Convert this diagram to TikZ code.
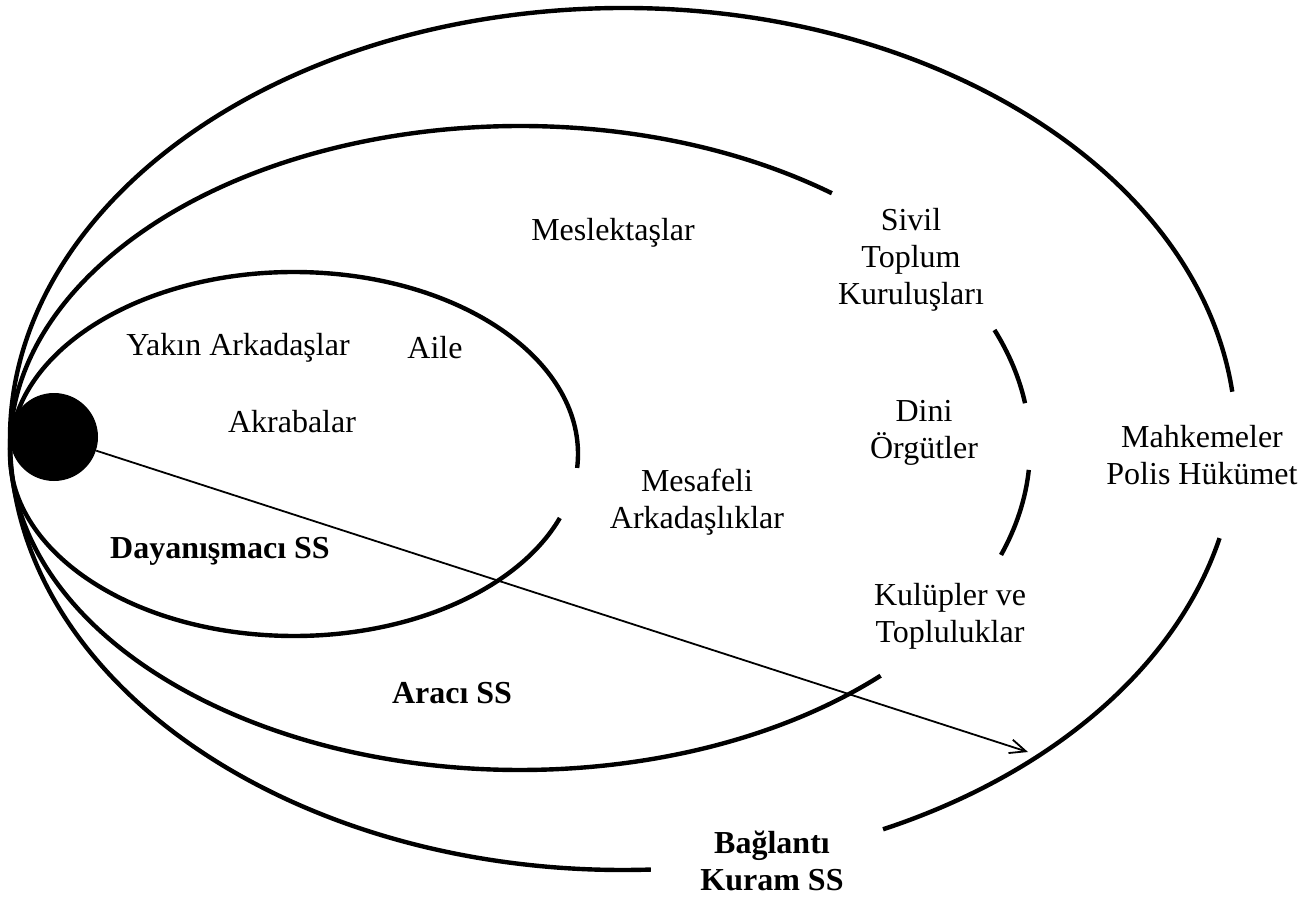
\documentclass[tikz,border=0pt]{standalone}
\usepackage{fontspec}
\setmainfont{Liberation Serif}
\usetikzlibrary{arrows.meta}

\begin{document}
\begin{tikzpicture}[
    x=0.5pt, y=0.5pt,
    ring/.style = {line width=2.2pt},
    ego/.style = {circle, fill=black, minimum size=44pt, inner sep=0pt},
    reach/.style = {-{Straight Barb[length=8pt, width=7pt]}, line width=0.9pt},
    label/.style = {font=\fontsize{16}{18.5}\selectfont, align=center},
    level/.style = {label, font=\fontsize{16}{18.5}\selectfont\bfseries}
    ]
    \useasboundingbox (0,0) rectangle (1311,918);

    % outer ring
    \draw[ring] ({623+613*cos(6.3)},{479+431*sin(6.3)})
        arc[start angle=6.3, end angle=272.6, x radius=613, y radius=431];
    \draw[ring] ({623+613*cos(295.1)},{479+431*sin(295.1)})
        arc[start angle=295.1, end angle=346.7, x radius=613, y radius=431];
    % middle ring
    \draw[ring] ({520+510*cos(52.3)},{470+322*sin(52.3)})
        arc[start angle=52.3, end angle=315, x radius=510, y radius=322];
    \draw[ring] ({520+510*cos(8)},{470+322*sin(8)})
        arc[start angle=8, end angle=21.5, x radius=510, y radius=322];
    \draw[ring] ({520+510*cos(-19.4)},{470+322*sin(-19.4)})
        arc[start angle=-19.4, end angle=-3.9, x radius=510, y radius=322];
    % inner ring
    \draw[ring] ({294+284*cos(-4.4)},{464+182*sin(-4.4)})
        arc[start angle=-4.4, end angle=339.4, x radius=284, y radius=182];

    \node[ego] (self) at (54,481) {};
    \coordinate (reachend) at (1028,166);
    \draw[reach] (self) -- (reachend);

    \node[label] (colleagues) at (613,685) {Meslektaşlar};
    \node[label] (ngo) at (911,658) {Sivil\\Toplum\\Kuruluşları};
    \node[label] (friends) at (238,570) {Yakın Arkadaşlar};
    \node[label] (family) at (435,570) {Aile};
    \node[label] (relatives) at (292,496) {Akrabalar};
    \node[label] (religion) at (924,485) {Dini\\Örgütler};
    \node[label] (state) at (1202,463) {Mahkemeler\\Polis Hükümet};
    \node[label] (distant) at (697,416) {Mesafeli\\Arkadaşlıklar};
    \node[label] (clubs) at (950,302) {Kulüpler ve\\Topluluklar};

    \node[level] (solidary) at (220,367) {Dayanışmacı SS};
    \node[level] (broker) at (452,225) {Aracı SS};
    \node[level] (bridge) at (772,57) {Bağlantı\\Kuram SS};
\end{tikzpicture}
\end{document}
